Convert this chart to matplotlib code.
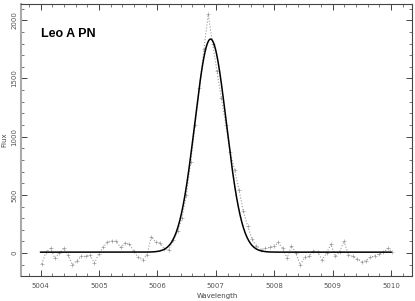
import numpy as np
import matplotlib
matplotlib.use("Agg")
import matplotlib.pyplot as plt
from matplotlib.ticker import MultipleLocator

# Observed spectrum (wavelength grid and flux)
wave_start = 5004.02
wave_step = 0.075
flux_obs = [-94, 11, 40, -45, -3, 40, -17, -102, -65, -28,
            -28, -17, -85, -8, 48, 96, 105, 100, 48, 85,
            77, 14, -37, -57, -17, 142, 96, 85, 34, 28,
            110, 190, 300, 500, 780, 1100, 1420, 1750, 2050, 1800,
            1560, 1330, 1100, 870, 716, 546, 361, 233, 119, 62,
            28, 40, 48, 57, 91, 40, -45, 62, 0, -102,
            -37, -28, 20, 6, -57, 0, 77, -28, 11, 105,
            -17, -28, -51, -74, -65, -37, -23, -8, 6, 40, 11]
wave_obs = [round(wave_start + wave_step * i, 3) for i in range(len(flux_obs))]

# Gaussian fit parameters
fit_center = 5006.91
fit_sigma = 0.27
fit_amp = 1830
fit_base = 8
fit_range = (5004.0, 5010.0)

title_text = "Leo A PN"
xticks = [5004, 5005, 5006, 5007, 5008, 5009, 5010]
yticks = [0, 500, 1000, 1500, 2000]

fig = plt.figure(figsize=(4.15, 3.01), dpi=100)
ax = fig.add_axes([0.05, 0.083, 0.943, 0.904])

xf = np.linspace(fit_range[0], fit_range[1], 600)
yf = fit_base + fit_amp * np.exp(-0.5 * ((xf - fit_center) / fit_sigma) ** 2)

ax.plot(wave_obs, flux_obs, linestyle=':', color='#999999', lw=0.8,
        marker='+', markersize=2.2, markeredgewidth=0.45, zorder=2)
ax.plot(xf, yf, color='black', lw=1.1, zorder=3)

ax.set_xlim(5003.66, 5010.36)
ax.set_ylim(-197, 2140)

ax.set_xticks(xticks)
ax.set_xticklabels([str(t) for t in xticks])
ax.set_yticks(yticks)
ax.set_yticklabels([str(t) for t in yticks], rotation=90, va='center')
ax.xaxis.set_minor_locator(MultipleLocator(0.2))
ax.yaxis.set_minor_locator(MultipleLocator(100))

ax.tick_params(which='both', direction='in', top=True, right=True,
               labelsize=5, labelcolor='#555555', color='#444444')
ax.tick_params(which='major', length=4, width=0.7)
ax.tick_params(which='minor', length=2.5, width=0.5)
ax.tick_params(axis='x', which='major', pad=5)
ax.tick_params(axis='y', which='major', pad=2.5)

for s in ['top', 'right', 'bottom']:
    ax.spines[s].set_color('#444444')
    ax.spines[s].set_linewidth(0.8)
ax.spines['left'].set_color('#aaaaaa')
ax.spines['left'].set_linewidth(1.5)

fig.text(217 / 415, 1 - 296 / 301, "Wavelength", fontsize=5, color='#444444',
         ha='center', va='center')
fig.text(4.5 / 415, 1 - 140 / 301, "Flux", fontsize=5, color='#444444',
         ha='center', va='center', rotation=90)

ax.text(5004.0, 1860, title_text, fontsize=9, fontweight='bold',
        family='Liberation Sans', color='black', va='baseline')

fig.savefig("out.png", dpi=100)
